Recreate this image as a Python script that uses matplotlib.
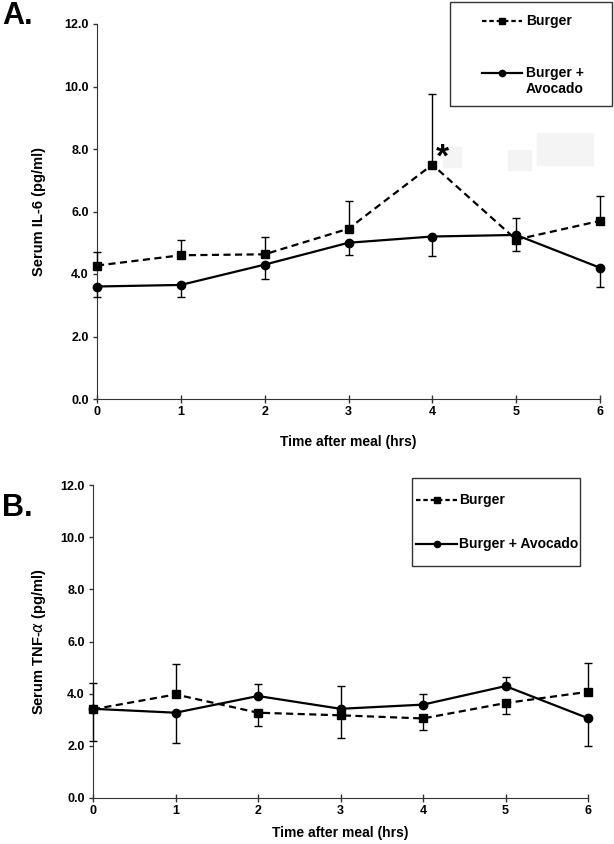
import matplotlib
matplotlib.use("Agg")
import matplotlib.pyplot as plt
from matplotlib.patches import Rectangle
from matplotlib.lines import Line2D

plt.rcParams['font.family'] = ['Liberation Sans', 'DejaVu Sans']

hours = [0, 1, 2, 3, 4, 5, 6]
xticks = [0, 1, 2, 3, 4, 5, 6]
yticks = [0, 2, 4, 6, 8, 10, 12]

# Panel A - IL-6
il6_burger = [4.27, 4.6, 4.63, 5.45, 7.5, 5.1, 5.7]
il6_burger_up = [0.45, 0.5, 0.57, 0.9, 2.25, 0.0, 0.8]
il6_burger_dn = [0, 0, 0, 0, 0, 0.35, 0]
il6_avo = [3.6, 3.65, 4.3, 5.0, 5.2, 5.25, 4.2]
il6_avo_dn = [0.35, 0.37, 0.47, 0.4, 0.62, 0.0, 0.63]
il6_avo_up = [0, 0, 0, 0, 0, 0.53, 0]

# Panel B - TNF-alpha
tnf_burger = [3.4, 3.97, 3.27, 3.17, 3.05, 3.64, 4.07]
tnf_burger_up = [1.0, 1.17, 0, 0, 0, 0, 1.1]
tnf_burger_dn = [0, 0, 0.52, 0.86, 0.46, 0.41, 0]
tnf_avo = [3.42, 3.27, 3.91, 3.42, 3.58, 4.29, 3.06]
tnf_avo_up = [0, 0, 0.47, 0.88, 0.42, 0.34, 0]
tnf_avo_dn = [1.22, 1.15, 0, 0, 0, 0, 1.08]

W, H = 614, 844
fig = plt.figure(figsize=(W / 100, H / 100), dpi=100)

DASH = (0, (3.2, 2.0))
DASH_LEG = (0, (2.0, 1.3))


def px_axes(left, right, top, bottom):
    return fig.add_axes([left / W, 1 - bottom / H, (right - left) / W, (bottom - top) / H])


def fx(x):
    return x / W


def fy(y):
    return 1 - y / H


def draw_panel(ax, yb, yb_up, yb_dn, ya, ya_up, ya_dn, ylabel, xlab_y, ylab_x):
    eb = dict(ecolor='black', elinewidth=1.0, capsize=3, capthick=1.0)
    ax.errorbar(hours, yb, yerr=[yb_dn, yb_up], color='black', ls=DASH,
                lw=1.6, marker='s', ms=6, **eb, zorder=3)
    ax.errorbar(hours, ya, yerr=[ya_dn, ya_up], color='black', ls='-',
                lw=1.6, marker='o', ms=6, **eb, zorder=3)
    ax.set_xlim(0, 6)
    ax.set_ylim(0, 12)
    ax.set_xticks(xticks)
    ax.set_yticks(yticks)
    ax.set_yticklabels(['%.1f' % v for v in yticks])
    ax.spines['top'].set_visible(False)
    ax.spines['right'].set_visible(False)
    for s in ax.spines.values():
        s.set_color('#333333')
    ax.tick_params(axis='y', direction='out', length=3, width=1, labelsize=9, pad=3,
                   color='#333333')
    ax.tick_params(axis='x', direction='inout', length=6, width=1, labelsize=9, pad=2,
                   color='#333333')
    for lab in ax.get_xticklabels() + ax.get_yticklabels():
        lab.set_fontweight('semibold')
    ax.set_xlabel('Time after meal (hrs)', fontsize=10, fontweight='bold')
    ax.set_ylabel(ylabel, fontsize=10.5, fontweight='bold')
    ax.xaxis.set_label_coords(0.5, xlab_y)
    ax.yaxis.set_label_coords(ylab_x, 0.5)
    for e in ax.lines + ax.collections:
        e.set_clip_on(False)


def legend_row(x0, x1, y, ls, marker, label, tx):
    fig.add_artist(Line2D([fx(x0), fx(x1)], [fy(y), fy(y)], color='black', ls=ls, lw=1.6))
    fig.add_artist(Line2D([fx((x0 + x1) / 2)], [fy(y)], color='black', marker=marker,
                          ms=4.5, ls='none'))
    fig.text(fx(tx), fy(y), label, fontsize=10, fontweight='bold', ha='left', va='center')


# ---- Panel A ----
axA = px_axes(97, 600, 24, 399)
draw_panel(axA, il6_burger, il6_burger_up, il6_burger_dn,
           il6_avo, il6_avo_up, il6_avo_dn, 'Serum IL-6 (pg/ml)', -0.095, -0.101)

fig.add_artist(Rectangle((fx(450), fy(106)), (612 - 450) / W, (106 - 2) / H,
                         fill=False, ec='#333333', lw=1.0, transform=fig.transFigure))
legend_row(482, 522, 21, DASH_LEG, 's', 'Burger', 526)
legend_row(482, 522, 73, '-', 'o', 'Burger +', 526)
fig.text(fx(526), fy(89), 'Avocado', fontsize=10, fontweight='bold', ha='left', va='center')

fig.text(fx(442), fy(158), '*', fontsize=24, fontweight='bold', ha='center', va='center')

# faint artefact patches in panel A
for (x0, y0, w, h) in [(443, 147, 18, 20), (508, 150, 23, 20), (537, 133, 56, 32)]:
    fig.patches.append(Rectangle((fx(x0), fy(y0 + h)), w / W, h / H,
                                 transform=fig.transFigure, color='#f4f4f4', zorder=0))

fig.text(fx(2), fy(16), 'A.', fontsize=22, fontweight='bold', ha='left', va='center')

# ---- Panel B ----
axB = px_axes(93, 588, 485, 798)
draw_panel(axB, tnf_burger, tnf_burger_up, tnf_burger_dn,
           tnf_avo, tnf_avo_up, tnf_avo_dn, 'Serum TNF-$\\alpha$ (pg/ml)', -0.089, -0.091)

fig.add_artist(Rectangle((fx(412), fy(566)), (580 - 412) / W, (566 - 478) / H,
                         fill=False, ec='#333333', lw=1.0, transform=fig.transFigure))
legend_row(416, 457, 500, DASH_LEG, 's', 'Burger', 459)
legend_row(416, 457, 544, '-', 'o', 'Burger + Avocado', 459)

fig.text(fx(2), fy(508), 'B.', fontsize=22, fontweight='bold', ha='left', va='center')

fig.savefig('out.png', dpi=100)
